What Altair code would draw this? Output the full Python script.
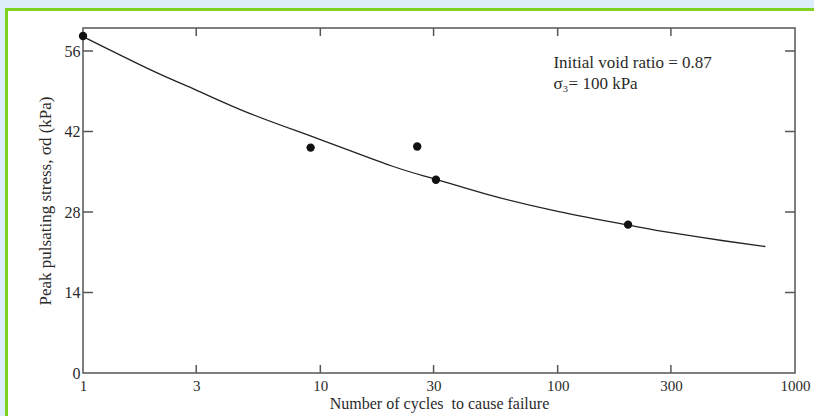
import altair as alt
import pandas as pd

# Measured points
pt_cycles = [1, 9.1, 25.6, 30.7, 198]
pt_stress = [58.6, 39.2, 39.4, 33.6, 25.8]

# Fitted curve
curve_cycles = [1, 2, 3, 5, 10, 20, 30, 50, 100, 200, 300, 500, 750]
curve_stress = [58.5, 52.4, 49.2, 45.2, 40.6, 36.0, 33.8, 31.1, 28.1, 25.7, 24.4, 23.0, 22.0]

x_ticks = [1, 3, 10, 30, 100, 300, 1000]
x_inner_ticks = [3, 10, 30, 100, 300]
y_ticks = [0, 14, 28, 42, 56]
y_inner_ticks = [14, 28, 42, 56]

note_lines = ["Initial void ratio = 0.87", "σ₃= 100 kPa"]
note_x = [96, 96]
note_y = [53.9, 50.3]

W, H = 712, 345
FONT = "Liberation Serif"
TXT = "#2a2a2a"

xs = alt.Scale(type="log", domain=[1, 1000])
ys = alt.Scale(domain=[0, 60])

pts = pd.DataFrame({"n": pt_cycles, "s": pt_stress})
crv = pd.DataFrame({"n": curve_cycles, "s": curve_stress})
xt = pd.DataFrame({"n": x_inner_ticks})
yt = pd.DataFrame({"s": y_inner_ticks})
notes = pd.DataFrame({"t": note_lines, "n": note_x, "s": note_y})
one = pd.DataFrame({"a": [0]})

# white panel with green border (decoration)
panel = alt.Chart(one).mark_rect(
    fill="white", stroke="#7ed321", strokeWidth=3
).encode(x=alt.value(-76.5), x2=alt.value(W + 200), y=alt.value(-18.5), y2=alt.value(H + 200))

frame = alt.Chart(one).mark_rect(
    fill=None, fillOpacity=0, stroke="#555", strokeWidth=1.5
).encode(x=alt.value(0), x2=alt.value(W), y=alt.value(0), y2=alt.value(H))

base_axes = alt.Chart(crv).mark_line(strokeOpacity=0).encode(
    x=alt.X("n:Q", scale=xs, axis=alt.Axis(
        values=x_ticks, ticks=False, grid=False, domain=False, zindex=2,
        format="d",
        labelFont=FONT, labelFontSize=15, labelColor=TXT, labelPadding=5,
        labelFlush=False,
        title="Number of cycles\u00a0 to cause failure", titleFont=FONT,
        titleFontSize=16, titleFontWeight="normal", titleColor=TXT, titlePadding=2)),
    y=alt.Y("s:Q", scale=ys, axis=alt.Axis(
        values=y_ticks, ticks=False, grid=False, domain=False, zindex=2,
        labelFont=FONT, labelFontSize=16, labelColor=TXT, labelPadding=3,
        title="Peak pulsating stress, σd (kPa)", titleFont=FONT,
        titleFontSize=17, titleFontWeight="normal", titleColor=TXT, titlePadding=10)),
)

line = alt.Chart(crv).mark_line(color="#222", strokeWidth=1.3, interpolate="natural").encode(
    x=alt.X("n:Q", scale=xs), y=alt.Y("s:Q", scale=ys))

points = alt.Chart(pts).mark_circle(color="#111", opacity=1, size=70).encode(
    x=alt.X("n:Q", scale=xs), y=alt.Y("s:Q", scale=ys))

tick_style = dict(color="#555", strokeWidth=1.5)
bt = alt.Chart(xt).mark_rule(**tick_style).encode(
    x=alt.X("n:Q", scale=xs), y=alt.value(H), y2=alt.value(H - 8))
tt = alt.Chart(xt).mark_rule(**tick_style).encode(
    x=alt.X("n:Q", scale=xs), y=alt.value(0), y2=alt.value(8))
lt = alt.Chart(yt).mark_rule(**tick_style).encode(
    y=alt.Y("s:Q", scale=ys), x=alt.value(0), x2=alt.value(10))
rt = alt.Chart(yt).mark_rule(**tick_style).encode(
    y=alt.Y("s:Q", scale=ys), x=alt.value(W), x2=alt.value(W - 10))

txt = alt.Chart(notes).mark_text(font=FONT, fontSize=17, color=TXT, align="left",
                                 baseline="middle").encode(
    x=alt.X("n:Q", scale=xs), y=alt.Y("s:Q", scale=ys), text="t:N")

chart = alt.layer(panel, base_axes, frame, line, points, bt, tt, lt, rt, txt).properties(
    width=W, height=H,
    autosize=alt.AutoSizeParams(type="none"),
    padding={"left": 83, "top": 28, "right": 19, "bottom": 43},
    background="#deedfa",
).configure_view(stroke=None)

chart.save("out.html", embed_options={"renderer": "svg", "actions": False})
